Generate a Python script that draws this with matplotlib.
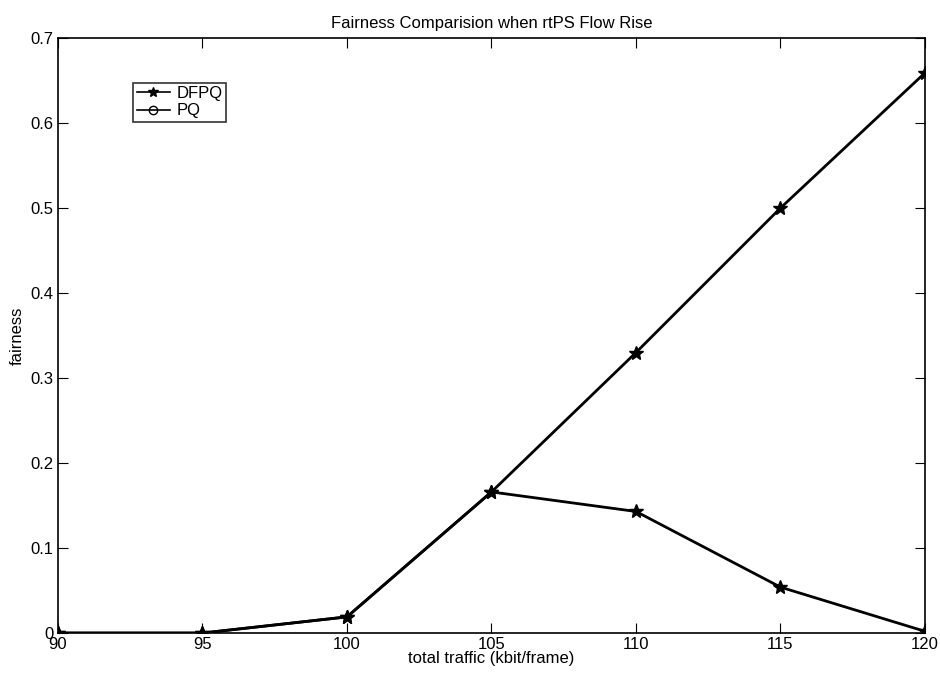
import matplotlib
matplotlib.use("Agg")
import matplotlib.pyplot as plt

plt.rcParams['font.family'] = ['Liberation Sans', 'DejaVu Sans']

traffic = [90, 95, 100, 105, 110, 115, 120]
dfpq = [0.0, 0.0, 0.019, 0.166, 0.330, 0.500, 0.659]
pq = [0.0, 0.0, 0.019, 0.166, 0.143, 0.054, 0.002]
xticks = [90, 95, 100, 105, 110, 115, 120]
yticks = [0, 0.1, 0.2, 0.3, 0.4, 0.5, 0.6, 0.7]
yticklabels = ['0', '0.1', '0.2', '0.3', '0.4', '0.5', '0.6', '0.7']

fig = plt.figure(figsize=(9.4, 6.79), dpi=100)
ax = fig.add_axes([0.0617, 0.0677, 0.9223, 0.8763])

ax.plot(traffic, dfpq, color='black', lw=2, marker='*', markersize=10,
        markerfacecolor='black', markeredgecolor='black', label='DFPQ')
ax.plot(traffic, pq, color='black', lw=2, marker='*', markersize=10,
        markerfacecolor='black', markeredgecolor='black', label='PQ')

ax.set_xlim(90, 120)
ax.set_ylim(0, 0.7)
ax.set_xticks(xticks)
ax.set_xticklabels([str(v) for v in xticks])
ax.set_yticks(yticks)
ax.set_yticklabels(yticklabels)
ax.tick_params(direction='in', top=True, right=True, length=7, labelsize=12, pad=3)
for s in ax.spines.values():
    s.set_linewidth(1.2)

ax.set_title('Fairness Comparision when rtPS Flow Rise', fontsize=12, pad=7)
ax.set_xlabel('total traffic (kbit/frame)', fontsize=12, labelpad=-1)
ax.set_ylabel('fairness', fontsize=12, labelpad=4)

leg = ax.legend(loc='upper left', bbox_to_anchor=(0.087, 0.925), fontsize=12,
                frameon=True, fancybox=False, edgecolor='black', handlelength=2,
                borderpad=0.2, labelspacing=0.15, handletextpad=0.4, borderaxespad=0)
leg.get_frame().set_linewidth(1.2)
h0, h1 = leg.legend_handles
h0.set_markersize(7)
h0.set_linewidth(1.2)
h1.set_marker('o')
h1.set_markersize(6)
h1.set_markerfacecolor('none')
h1.set_linewidth(1.2)

fig.savefig('out.png', dpi=100)
